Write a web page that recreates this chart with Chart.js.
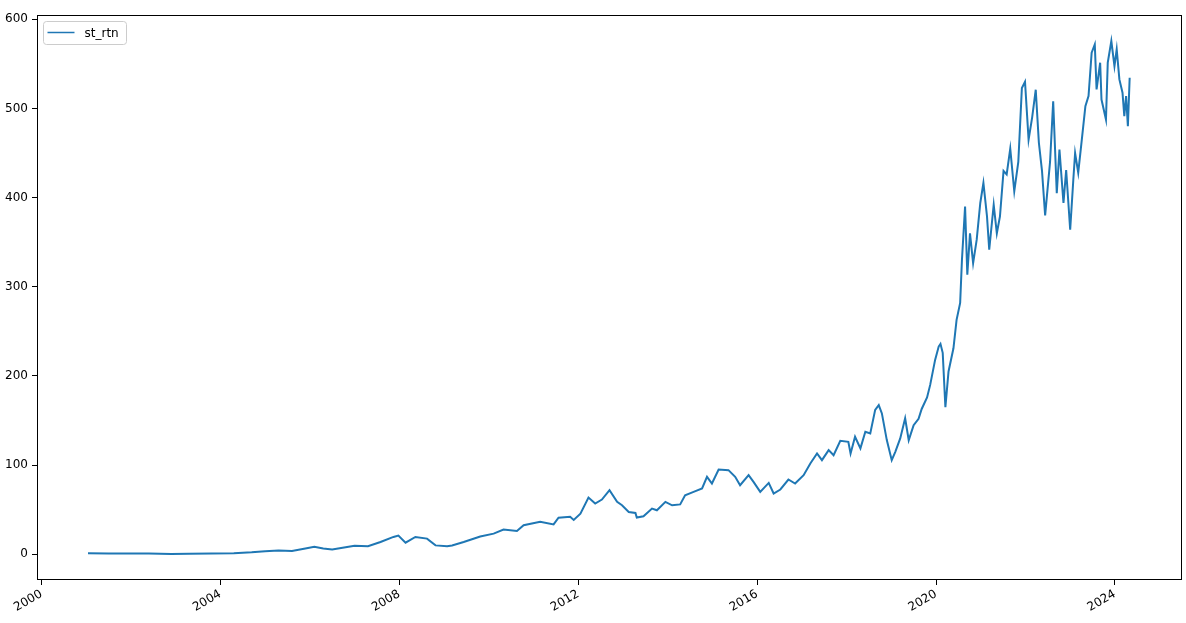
<!DOCTYPE html>
<html>
<head>
<meta charset="utf-8">
<script src="https://cdn.jsdelivr.net/npm/chart.js@4.4.1/dist/chart.umd.min.js"></script>
<style>
  body { margin: 0; background: #fff; }
  #wrap { width: 1186px; height: 623px; position: relative; }
</style>
</head>
<body>
<div id="wrap"><canvas id="line_chart"></canvas></div>
<script>
// series name
var seriesLabel = 'st_rtn';

// dates as decimal years
var years = [
  2001.04, 2001.5, 2002.0, 2002.4, 2002.9, 2003.3, 2003.8, 2004.3, 2004.7, 2005.0,
  2005.3, 2005.6, 2005.9, 2006.1, 2006.3, 2006.5, 2006.8, 2007.0, 2007.3, 2007.58,
  2007.87, 2007.98, 2008.14, 2008.36, 2008.62, 2008.81, 2009.07, 2009.18, 2009.44, 2009.81,
  2010.11, 2010.33, 2010.63, 2010.78, 2011.15, 2011.45, 2011.56, 2011.82, 2011.9, 2012.05,
  2012.23, 2012.38, 2012.53, 2012.70, 2012.87, 2012.98, 2013.13, 2013.28, 2013.31, 2013.46,
  2013.65, 2013.76, 2013.95, 2014.10, 2014.28, 2014.39, 2014.58, 2014.77, 2014.88, 2014.99,
  2015.14, 2015.36, 2015.51, 2015.62, 2015.81, 2015.92, 2016.07, 2016.26, 2016.37, 2016.52,
  2016.70, 2016.85, 2017.04, 2017.19, 2017.34, 2017.45, 2017.60, 2017.71, 2017.86, 2018.04,
  2018.09, 2018.19, 2018.31, 2018.42, 2018.53, 2018.64, 2018.72, 2018.79, 2018.90, 2019.01,
  2019.09, 2019.20, 2019.31, 2019.39, 2019.50, 2019.61, 2019.68, 2019.80, 2019.87, 2019.98,
  2020.06, 2020.10, 2020.15, 2020.21, 2020.28, 2020.39, 2020.46, 2020.54, 2020.58, 2020.65,
  2020.70, 2020.76, 2020.83, 2020.91, 2020.99, 2021.06, 2021.14, 2021.19, 2021.29, 2021.36,
  2021.43, 2021.51, 2021.58, 2021.66, 2021.75, 2021.84, 2021.92, 2021.99, 2022.07, 2022.15,
  2022.23, 2022.30, 2022.37, 2022.44, 2022.55, 2022.62, 2022.70, 2022.76, 2022.85, 2022.91,
  2023.0, 2023.07, 2023.11, 2023.18, 2023.26, 2023.34, 2023.41, 2023.48, 2023.55, 2023.59,
  2023.67, 2023.70, 2023.80, 2023.84, 2023.92, 2023.99, 2024.04, 2024.10, 2024.17, 2024.21,
  2024.25, 2024.29, 2024.33
];

var values = [
  1.2, 1.0, 1.0, 0.8, 0.4, 0.5, 0.9, 1.3, 2.2, 3.5,
  4.2, 3.8, 6.5, 8.5, 6.5, 5.5, 8.0, 9.5, 9.0, 13.8,
  19.5, 21, 13, 19.5, 17.6, 10, 9, 10, 13.8, 20,
  23.2, 27.7, 26.2, 32.6, 36.5, 33.5, 41, 42, 38.5, 45.5,
  63.7, 57, 61.4, 72, 58.8, 55, 47.5, 46.4, 41.2, 42.7,
  51.3, 49.4, 58.8, 55, 56, 66.3, 70, 73.8, 86.9, 79.4,
  95.1, 94.4, 86.9, 77.5, 88.8, 81.2, 70, 80.1, 68.2, 72.7,
  83.9, 79.4, 88.8, 101.9, 113.1, 105.6, 116.9, 111.2, 127.3, 126.2,
  113.1, 131.8, 118.8, 137.4, 135.6, 162, 167.4, 158, 128.1, 105.6,
  115, 130, 152.5, 128, 144.9, 152, 163, 176, 190, 218,
  233, 236, 226, 165, 205, 231, 263, 282, 330, 390,
  313.5, 360, 326.6, 352.8, 394, 416.5, 379, 341.6, 392, 360,
  379, 430, 426, 455, 407, 440, 523, 530, 465, 490,
  521, 461.5, 430, 380, 440, 508, 405, 454, 394, 431,
  364, 420, 450, 428, 465, 502.6, 513.8, 562.6, 571.9, 521.3,
  551.3, 510, 487.6, 551.3, 575.6, 547.5, 566.3, 532.6, 517.6, 491.3,
  513.8, 480, 534.5
];

// tick labels
var xTicks = [2000, 2004, 2008, 2012, 2016, 2020, 2024];
var yTicks = [0, 100, 200, 300, 400, 500, 600];

var lineColor = '#1f77b4';
var tickFont = { family: 'DejaVu Sans', size: 12 };

var points = [];
for (var i = 0; i < years.length; i++) {
  points.push({ x: years[i], y: values[i] });
}

// axes frame plus a matplotlib style legend box
var framePlugin = {
  id: 'frame',
  afterDraw: function(chart) {
    var ctx = chart.ctx;
    var a = chart.chartArea;
    ctx.save();
    ctx.strokeStyle = '#000';
    ctx.lineWidth = 1;
    ctx.strokeRect(a.left + 0.5, a.top + 0.5, a.right - a.left - 1, a.bottom - a.top - 1);

    var bx = a.left + 6.5, by = a.top + 6.5;
    ctx.beginPath();
    ctx.roundRect(bx, by, 83, 23, 3);
    ctx.fillStyle = 'rgba(255,255,255,0.8)';
    ctx.fill();
    ctx.strokeStyle = '#cccccc';
    ctx.stroke();

    ctx.beginPath();
    ctx.moveTo(bx + 4, by + 11);
    ctx.lineTo(bx + 31, by + 11);
    ctx.strokeStyle = lineColor;
    ctx.lineWidth = 1.5;
    ctx.stroke();

    ctx.fillStyle = '#000';
    ctx.font = '12px "DejaVu Sans"';
    ctx.textBaseline = 'middle';
    ctx.textAlign = 'left';
    ctx.fillText(chart.data.datasets[0].label, bx + 41, by + 12);
    ctx.restore();
  }
};

var chart = new Chart(document.getElementById('line_chart'), {
  type: 'line',
  data: {
    datasets: [{
      label: seriesLabel,
      data: points,
      borderColor: lineColor,
      borderWidth: 2,
      pointRadius: 0,
      tension: 0,
      fill: false
    }]
  },
  options: {
    responsive: true,
    maintainAspectRatio: false,
    animation: false,
    layout: { padding: { left: 0, top: 15, right: 4, bottom: 0 } },
    plugins: {
      legend: { display: false },
      tooltip: { enabled: false }
    },
    scales: {
      x: {
        type: 'linear',
        min: 1999.9,
        max: 2025.5,
        afterFit: function(s) { s.height = 43; },
        afterBuildTicks: function(s) { s.ticks = xTicks.map(function(v) { return { value: v }; }); },
        border: { display: false },
        grid: { drawOnChartArea: false, drawTicks: true, tickLength: 5, tickColor: '#000' },
        ticks: {
          color: '#000',
          font: tickFont,
          maxRotation: 30,
          minRotation: 30,
          padding: 2,
          callback: function(v) { return String(v); }
        }
      },
      y: {
        min: -28.8,
        max: 604.8,
        afterFit: function(s) { s.width = 37; },
        afterBuildTicks: function(s) { s.ticks = yTicks.map(function(v) { return { value: v }; }); },
        border: { display: false },
        grid: { drawOnChartArea: false, drawTicks: true, tickLength: 5, tickColor: '#000' },
        ticks: {
          color: '#000',
          font: tickFont,
          padding: 4,
          callback: function(v) { return String(v); }
        }
      }
    }
  },
  plugins: [framePlugin]
});
</script>
</body>
</html>
